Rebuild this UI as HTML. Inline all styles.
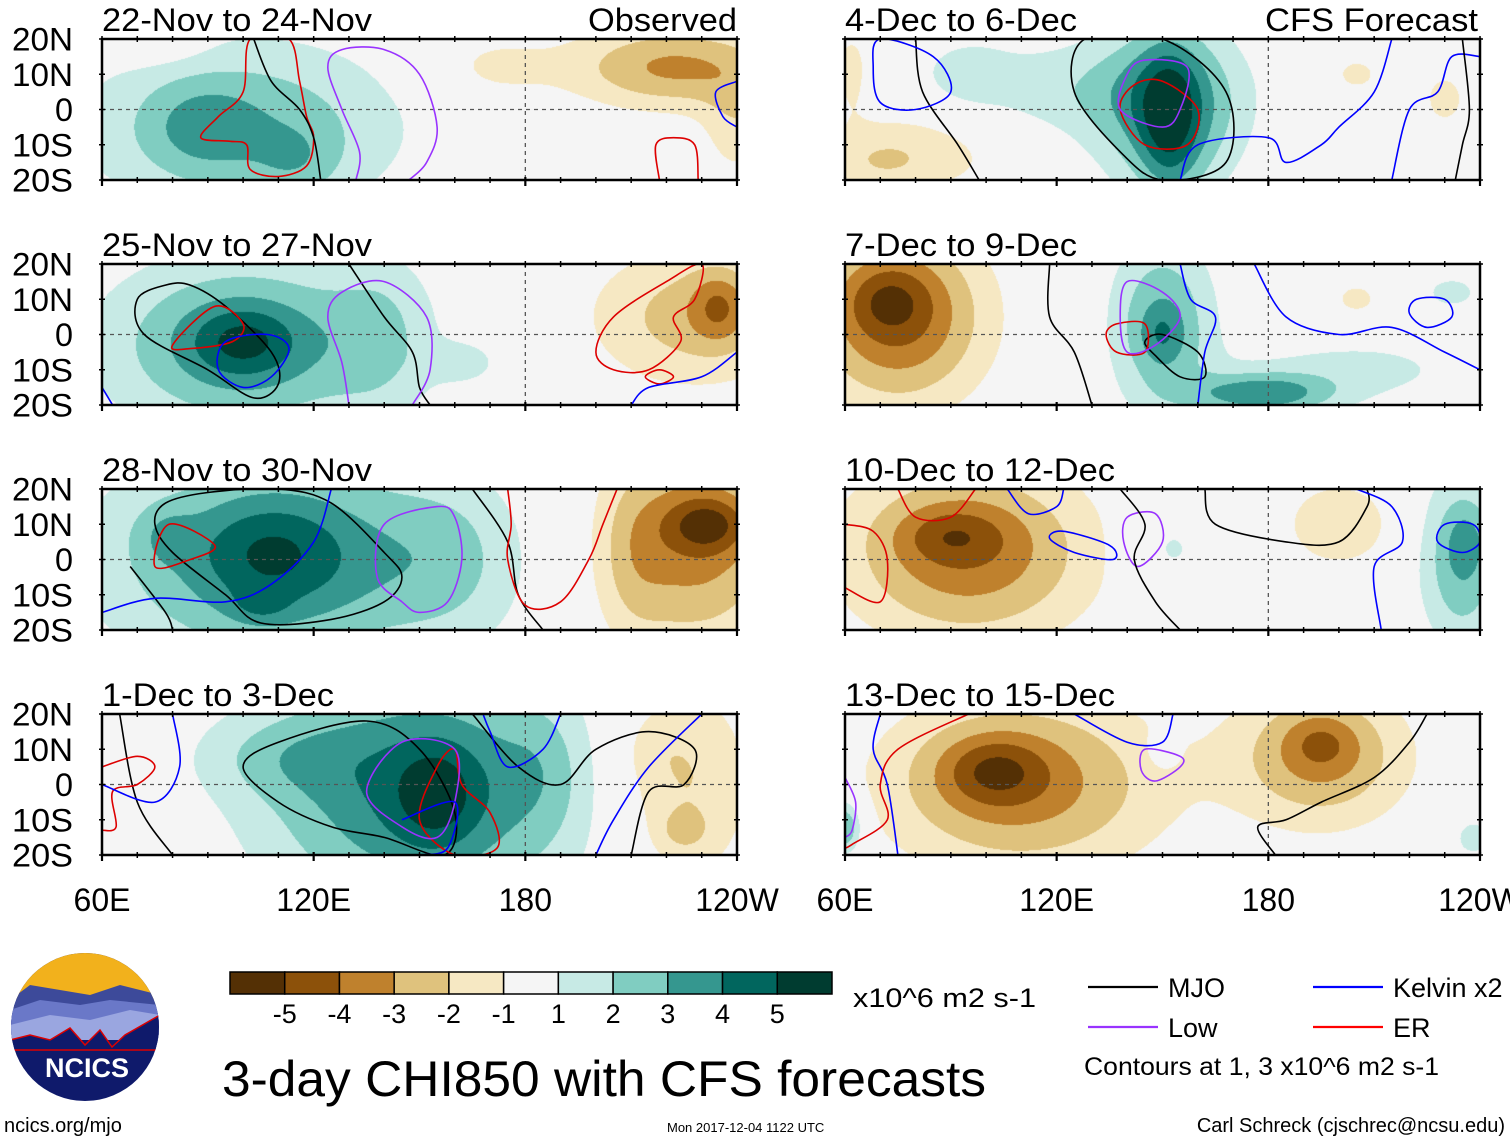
<!DOCTYPE html>
<html><head><meta charset="utf-8">
<style>
html,body{margin:0;padding:0;background:#fff;}
#wrap{position:relative;width:1510px;height:1142px;overflow:hidden;background:#fff;font-family:"Liberation Sans",sans-serif;}
canvas{position:absolute;}
#ov{position:absolute;left:0;top:0;}
</style></head>
<body>
<div id="wrap">
<svg id="ov" width="1510" height="1142" xmlns="http://www.w3.org/2000/svg"></svg>
</div>
<script>
// ---- data ----
const levelColors = ["#543005","#8c510a","#bf812d","#dfc27d","#f6e8c3","#f5f5f5","#c7eae5","#80cdc1","#35978f","#01665e","#003c30"];
const colorbarLabels = ["-5","-4","-3","-2","-1","1","2","3","4","5"];
const panelTitles = ["22-Nov to 24-Nov","25-Nov to 27-Nov","28-Nov to 30-Nov","1-Dec to 3-Dec","4-Dec to 6-Dec","7-Dec to 9-Dec","10-Dec to 12-Dec","13-Dec to 15-Dec"];
const latTicks = [20,10,0,-10,-20];
const latLabels = ["20N","10N","0","10S","20S"];
const lonTicks = [60,120,180,240];
const lonLabels = ["60E","120E","180","120W"];
// anomaly blobs per panel: [lon, lat, lonRadius, latRadius, amplitude]
const blobs1 = [[100,-5,45,25,2.8],[88,-5,15,12,1.2],[115,-15,12,10,1.0],[75,18,15,6,-0.8],[222,12,30,12,-3.2],[240,-5,10,15,-1.5],[170,12,18,10,-1.2]];
const blobs2 = [[100,-3,40,25,3.5],[100,-2,15,10,2],[140,0,15,25,1.3],[163,-8,10,6,1.3],[228,5,30,20,-2.5],[235,8,8,10,-2]];
const blobs3 = [[110,0,50,30,3.8],[108,2,20,15,1.5],[78,7,8,8,1],[105,-13,8,5,1],[160,0,20,25,1.2],[228,5,25,30,-3.5],[232,10,12,8,-2.5],[210,0,10,25,-1]];
const blobs4 = [[150,-2,45,35,4.2],[155,-3,12,15,1.8],[110,8,25,12,1.2],[185,5,12,20,0.8],[225,0,20,30,-2.2],[225,-13,6,5,-1.2],[215,10,10,10,-0.5]];
const blobs5 = [[152,0,20,25,3.5],[152,-3,8,20,2.5],[115,5,45,15,1.6],[95,10,10,8,1],[80,-10,30,15,-1.8],[70,-15,12,6,-0.8],[62,12,6,12,-1.5],[205,10,8,6,-1.3],[230,3,8,10,-1.3]];
const blobs6 = [[75,5,25,25,-4.2],[72,10,12,10,-1.5],[150,3,15,25,3],[150,0,6,8,1.2],[178,-17,20,6,3.5],[205,-10,35,10,1.3],[232,12,10,6,1.3],[205,10,8,6,-1.3]];
const blobs7 = [[95,2,35,25,-3.8],[90,7,15,8,-1.5],[152,3,12,12,1.3],[200,10,15,12,-2],[235,0,12,25,3],[236,5,5,8,1]];
const blobs8 = [[110,0,40,25,-3.5],[102,4,15,10,-2.2],[195,8,25,20,-3.2],[195,12,10,8,-1.3],[60,-12,5,8,3.5],[238,-15,8,8,1.3],[150,10,4,5,1.2]];
// contour lines per panel: [color, closed, [lon,lat]...]
const lines1 = [["#d00",1,[[102,20],[100,5],[93,-2],[88,-8],[96,-9],[101,-10],[102,-17],[110,-19],[118,-16],[120,-8],[118,-2],[116,8],[113,20]]],
 ["#000",0,[[103,20],[108,8],[116,0],[120,-8],[122,-20]]],
 ["#9933ff",0,[[132,-20],[133,-12],[128,0],[124,12],[128,17],[140,17],[150,10],[155,-5],[152,-15],[147,-20]]],
 ["#00f",0,[[240,8],[234,5],[236,-2],[240,-5]]],
 ["#d00",0,[[218,-20],[217,-10],[222,-8],[228,-10],[229,-20]]]];
const lines2 = [["#000",1,[[78,14],[70,10],[72,0],[90,-10],[103,-18],[110,-14],[108,-5],[95,8],[85,14]]],
 ["#000",0,[[130,20],[140,5],[148,-5],[150,-15],[153,-20]]],
 ["#d00",1,[[80,-3],[92,8],[100,3],[97,-2],[85,-4]]],
 ["#00f",1,[[95,-2],[107,0],[113,-4],[108,-12],[100,-15],[93,-10]]],
 ["#9933ff",0,[[130,-20],[128,-8],[124,5],[128,12],[140,15],[152,5],[153,-10],[148,-20]]],
 ["#d00",1,[[200,-5],[205,5],[220,15],[230,20],[228,10],[222,5],[224,-2],[215,-10],[205,-10]]],
 ["#d00",1,[[214,-12],[218,-10],[222,-12],[218,-14]]],
 ["#00f",0,[[240,-5],[230,-12],[215,-15],[210,-20]]],
 ["#00f",0,[[60,-15],[63,-20]]]];
const lines3 = [["#000",1,[[78,16],[90,19],[110,20],[125,16],[140,2],[145,-5],[140,-12],[125,-17],[105,-18],[95,-10],[80,2],[75,10]]],
 ["#000",0,[[68,-2],[78,-15],[80,-20]]],
 ["#000",0,[[165,20],[175,5],[178,-10],[185,-20]]],
 ["#d00",1,[[79,10],[92,4],[85,0],[75,-2]]],
 ["#00f",0,[[60,-15],[75,-11],[95,-12],[108,-7],[120,5],[125,20]]],
 ["#9933ff",1,[[140,10],[155,15],[160,12],[162,0],[158,-12],[150,-15],[145,-12],[138,-5]]],
 ["#d00",0,[[175,20],[176,10],[175,0],[180,-13],[190,-12],[198,0],[202,10],[206,20]]]];
const lines4 = [["#000",1,[[100,5],[110,12],[135,18],[150,10],[160,-8],[157,-20],[140,-15],[125,-12],[110,-5]]],
 ["#000",0,[[65,20],[70,-5],[80,-20]]],
 ["#000",0,[[165,20],[178,5],[190,0],[200,10],[215,15],[228,10],[225,0],[215,-2],[210,-20]]],
 ["#d00",1,[[160,10],[162,0],[170,-8],[172,-18],[160,-20],[150,-10],[155,5]]],
 ["#d00",0,[[60,5],[70,8],[75,5],[70,0],[63,-2],[64,-12],[60,-13]]],
 ["#9933ff",1,[[135,-2],[145,12],[160,10],[160,-5],[155,-15],[145,-12]]],
 ["#00f",0,[[80,20],[82,5],[75,-5],[60,0]]],
 ["#00f",0,[[190,20],[185,10],[175,5],[170,15],[168,20]]],
 ["#00f",0,[[230,20],[215,5],[205,-10],[200,-20]]],
 ["#00f",0,[[145,-10],[160,-5],[158,-18],[150,-20]]]];
const lines5 = [["#000",0,[[80,20],[82,5],[92,-10],[98,-20]]],
 ["#000",1,[[128,20],[150,20],[168,5],[168,-15],[150,-20],[138,-12],[125,5]]],
 ["#d00",1,[[150,8],[160,0],[157,-10],[145,-10],[138,0],[142,7]]],
 ["#9933ff",1,[[145,14],[157,12],[155,0],[150,-5],[138,0],[140,10]]],
 ["#00f",1,[[70,20],[85,15],[90,5],[80,0],[70,2],[68,12]]],
 ["#00f",0,[[155,-20],[160,-10],[180,-8],[185,-15],[195,-10],[200,-5],[210,5],[215,20]]],
 ["#00f",0,[[215,-20],[220,0],[228,5],[232,15],[240,15]]],
 ["#000",0,[[233,-20],[235,-10],[237,0],[235,20]]]];
const lines6 = [["#000",0,[[118,20],[118,5],[125,-5],[130,-20]]],
 ["#000",1,[[145,-2],[150,0],[160,-5],[162,-12],[155,-12],[148,-6]]],
 ["#d00",1,[[137,3],[145,3],[145,-5],[137,-5],[134,0]]],
 ["#9933ff",1,[[140,15],[150,12],[155,5],[148,-3],[140,-5],[138,5]]],
 ["#00f",0,[[155,20],[158,10],[165,5],[162,-5],[160,-20]]],
 ["#00f",0,[[176,20],[185,5],[200,0],[215,2],[230,-5],[240,-10]]],
 ["#00f",1,[[222,10],[230,10],[232,5],[225,2],[220,6]]]];
const lines7 = [["#d00",0,[[75,20],[80,12],[90,12],[97,20]]],
 ["#d00",0,[[60,10],[68,8],[72,0],[70,-12],[60,-8]]],
 ["#00f",1,[[122,8],[135,4],[136,0],[125,2],[118,6]]],
 ["#00f",0,[[106,20],[112,13],[120,15],[122,20]]],
 ["#9933ff",1,[[140,12],[148,13],[150,5],[143,-2],[139,5]]],
 ["#000",0,[[138,20],[145,10],[142,0],[148,-12],[155,-20]]],
 ["#000",0,[[162,20],[165,10],[185,5],[200,5],[208,15],[208,20]]],
 ["#00f",0,[[205,20],[215,15],[218,5],[210,-2],[212,-20]]],
 ["#00f",1,[[230,10],[238,10],[240,5],[235,2],[228,5]]]];
const lines8 = [["#00f",0,[[70,20],[68,10],[72,0],[75,-20]]],
 ["#d00",0,[[95,20],[75,10],[70,0],[72,-10],[62,-17],[60,-18]]],
 ["#9933ff",0,[[60,2],[63,-5],[62,-13],[60,-15]]],
 ["#00f",0,[[125,20],[140,12],[150,12],[153,20]]],
 ["#9933ff",1,[[145,10],[155,8],[155,5],[148,1],[144,4]]],
 ["#000",0,[[182,-20],[177,-12],[185,-10],[195,-5],[210,2],[220,12],[225,20]]]];
const allBlobs = [blobs1,blobs2,blobs3,blobs4,blobs5,blobs6,blobs7,blobs8];
const allLines = [lines1,lines2,lines3,lines4,lines5,lines6,lines7,lines8];

// ---- layout ----
const colX = [102, 845], rowY = [39, 264, 489, 714], PW = 635, PH = 141;
const NS = "http://www.w3.org/2000/svg";
const svg = document.getElementById('ov');
const wrap = document.getElementById('wrap');
function mk(tag, attrs, parent){const e=document.createElementNS(NS,tag);for(const k in attrs)e.setAttribute(k,attrs[k]);(parent||svg).appendChild(e);return e;}
const xScale = (lon, x0) => x0 + (lon-60)/180*PW;
const yScale = (lat, y0) => y0 + (20-lat)/40*PH;
function levelIndex(v){
  if(v>=5) return 10; if(v>=4) return 9; if(v>=3) return 8; if(v>=2) return 7; if(v>=1) return 6;
  if(v>-1) return 5; if(v>-2) return 4; if(v>-3) return 3; if(v>-4) return 2; if(v>-5) return 1; return 0;
}
function hex(c){return [parseInt(c.slice(1,3),16),parseInt(c.slice(3,5),16),parseInt(c.slice(5,7),16)];}
const rgb = levelColors.map(hex);
function smoothPath(pts, closed){
  const n=pts.length; if(n<2) return "";
  const P=i=>closed?pts[(i+n)%n]:pts[Math.max(0,Math.min(n-1,i))];
  let d="M"+pts[0][0].toFixed(1)+","+pts[0][1].toFixed(1);
  const segs=closed?n:n-1;
  for(let i=0;i<segs;i++){
    const p0=P(i-1),p1=P(i),p2=P(i+1),p3=P(i+2);
    const c1=[p1[0]+(p2[0]-p0[0])/6,p1[1]+(p2[1]-p0[1])/6];
    const c2=[p2[0]-(p3[0]-p1[0])/6,p2[1]-(p3[1]-p1[1])/6];
    d+="C"+c1[0].toFixed(1)+","+c1[1].toFixed(1)+" "+c2[0].toFixed(1)+","+c2[1].toFixed(1)+" "+p2[0].toFixed(1)+","+p2[1].toFixed(1);
  }
  return d+(closed?"Z":"");
}

for(let p=0;p<8;p++){
  const x0 = colX[p<4?0:1], y0 = rowY[p%4];
  const cv=document.createElement('canvas');
  cv.width=PW; cv.height=PH;
  cv.style.left=x0+"px"; cv.style.top=y0+"px";
  
  
  wrap.insertBefore(cv, svg);
  const ctx=cv.getContext('2d'); const img=ctx.createImageData(PW,PH);
  const bl=allBlobs[p];
  for(let j=0;j<PH;j++){const lat=20-(j+0.5)/PH*40;
    for(let i=0;i<PW;i++){const lon=60+(i+0.5)/PW*180; let v=0;
      for(const b of bl){const dx=(lon-b[0])/b[2],dy=(lat-b[1])/b[3];v+=b[4]*Math.exp(-(dx*dx+dy*dy));}
      const c=rgb[levelIndex(v)],k=(j*PW+i)*4;img.data[k]=c[0];img.data[k+1]=c[1];img.data[k+2]=c[2];img.data[k+3]=255;}}
  ctx.putImageData(img,0,0);

  const g=mk('g',{});
  
  
  const clipId='clip'+p;
  const cp=mk('clipPath',{id:clipId},g); mk('rect',{x:x0,y:y0,width:PW,height:PH},cp);
  mk('line',{x1:x0,x2:x0+PW,y1:yScale(0,y0),y2:yScale(0,y0),stroke:'#555','stroke-width':1.3,'stroke-dasharray':'4,4'},g);
  mk('line',{x1:xScale(180,x0),x2:xScale(180,x0),y1:y0,y2:y0+PH,stroke:'#555','stroke-width':1.3,'stroke-dasharray':'4,4'},g);
  const lg=mk('g',{'clip-path':'url(#'+clipId+')'},g);
  for(const L of allLines[p]){
    const pts=L[2].map(q=>[xScale(q[0],x0),yScale(q[1],y0)]);
    const path=mk('path',{d:smoothPath(pts,L[1]===1),fill:'none',stroke:L[0],'stroke-width':1.6},lg);
    
    
  }
  mk('rect',{x:x0,y:y0,width:PW,height:PH,fill:'none',stroke:'#000','stroke-width':2.5},g);
  for(let lon=60;lon<=240;lon+=10){const x=xScale(lon,x0);const big=(lon%60===0);
    mk('line',{x1:x,x2:x,y1:y0-3,y2:y0+3,stroke:'#000','stroke-width':1.5},g);
    mk('line',{x1:x,x2:x,y1:y0+PH-3,y2:y0+PH+(big?6:3),stroke:'#000','stroke-width':big?2.2:1.5},g);}
  for(const lt of latTicks){const y=yScale(lt,y0);
    mk('line',{x1:x0-3,x2:x0+3,y1:y,y2:y,stroke:'#000','stroke-width':1.5},g);
    mk('line',{x1:x0+PW-3,x2:x0+PW+3,y1:y,y2:y,stroke:'#000','stroke-width':1.5},g);}
  const t=mk('text',{x:x0,y:y0-8,'font-size':32,fill:'#000','font-family':'Liberation Sans, sans-serif',textLength:(panelTitles[p].length>15? (panelTitles[p].startsWith('1')&&panelTitles[p].length===14?231:270):232),lengthAdjust:'spacingAndGlyphs'},g);
  t.textContent=panelTitles[p];
  
  
  if(p<4){latTicks.forEach((lt,i)=>{const tx=mk('text',{x:73,y:yScale(lt,y0)+11.5,'font-size':32,'text-anchor':'end',fill:'#000',textLength:latLabels[i].length>1?61:18,lengthAdjust:'spacingAndGlyphs'},g);tx.textContent=latLabels[i];
    
    });}
  if(p%4===3){lonTicks.forEach((ln,i)=>{const tx=mk('text',{x:xScale(ln,x0),y:911,'font-size':32,'text-anchor':'middle',fill:'#000'},g);tx.textContent=lonLabels[i];
    
    });}
}
let h=mk('text',{x:737,y:31,'font-size':32,'text-anchor':'end',textLength:149,lengthAdjust:'spacingAndGlyphs'});h.textContent="Observed";


h=mk('text',{x:1478,y:31,'font-size':32,'text-anchor':'end',textLength:213,lengthAdjust:'spacingAndGlyphs'});h.textContent="CFS Forecast";



const cbx0=230, cbw=602/11;
levelColors.forEach((c,i)=>{const r=mk('rect',{x:cbx0+i*cbw,y:972,width:cbw,height:22,fill:c,stroke:'#000','stroke-width':1.5});
  
  });
colorbarLabels.forEach((l,i)=>{const tx=mk('text',{x:cbx0+(i+1)*cbw,y:1023,'font-size':27,'text-anchor':'middle'});tx.textContent=l;
  
  });
h=mk('text',{x:853,y:1007,'font-size':27,textLength:183,lengthAdjust:'spacingAndGlyphs'});h.textContent="x10^6 m2 s-1";



const legend=[["MJO","#000",1088,987],["Low","#9933ff",1088,1027],["Kelvin x2","#00f",1313,987],["ER","#f00",1313,1027]];
legend.forEach(L=>{const lg=mk('g',{});
  
  
  mk('line',{x1:L[2],x2:L[2]+70,y1:L[3],y2:L[3],stroke:L[1],'stroke-width':2.2},lg);
  const tx=mk('text',{x:L[2]+80,y:L[3]+10,'font-size':27},lg);tx.textContent=L[0];});
h=mk('text',{x:1084,y:1075,'font-size':25,textLength:355,lengthAdjust:'spacingAndGlyphs'});h.textContent="Contours at 1, 3 x10^6 m2 s-1";


h=mk('text',{x:222,y:1096,'font-size':50,textLength:764,lengthAdjust:'spacingAndGlyphs'});h.textContent="3-day CHI850 with CFS forecasts";


h=mk('text',{x:4,y:1132,'font-size':20});h.textContent="ncics.org/mjo";


h=mk('text',{x:667,y:1132,'font-size':13});h.textContent="Mon 2017-12-04 1122 UTC";


h=mk('text',{x:1505,y:1132,'font-size':20,'text-anchor':'end'});h.textContent="Carl Schreck (cjschrec@ncsu.edu)";



const lg=mk('g',{});


const lc=mk('clipPath',{id:'logoclip'},lg); mk('circle',{cx:85,cy:1027,r:74},lc);
const li=mk('g',{'clip-path':'url(#logoclip)'},lg);
mk('rect',{x:0,y:950,width:170,height:160,fill:'#0f1a6b'},li);
mk('rect',{x:0,y:950,width:170,height:50,fill:'#f2b11c'},li);
mk('path',{d:'M10,1000 L30,985 L60,990 L90,995 L120,985 L160,995 L160,1040 L10,1040Z',fill:'#3d4a9a'},li);
mk('path',{d:'M10,1010 L40,1000 L80,1005 L110,1000 L160,1005 L160,1040 L10,1040Z',fill:'#6a78c8'},li);
mk('path',{d:'M10,1025 L50,1015 L90,1020 L130,1010 L160,1015 L160,1040 L10,1040Z',fill:'#9aa6e0'},li);
mk('path',{d:'M10,1040 L30,1035 L50,1040 L70,1028 L85,1045 L100,1030 L112,1047 L125,1035 L160,1015 L160,1050 L10,1050Z',fill:'#0f1a6b',stroke:'#d00','stroke-width':1.5},li);
const nt=mk('text',{x:87,y:1077,'font-size':27,'font-weight':'bold','text-anchor':'middle',fill:'#fff'},lg);nt.textContent="NCICS";
</script>
</body></html>
